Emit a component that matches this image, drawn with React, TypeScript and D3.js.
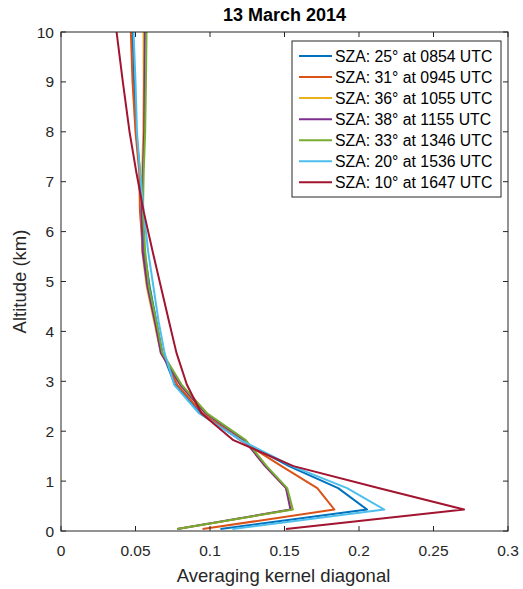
import React from "react";
import * as d3 from "d3";

// altitude grid (km)
const altitudes = [0.04, 0.43, 0.86, 1.3, 1.82, 2.36, 2.93, 3.57, 4.2, 4.9, 5.6, 6.4, 7.2, 8.0, 9.0, 10.0];

const labels = [
  "SZA: 25° at 0854 UTC",
  "SZA: 31° at 0945 UTC",
  "SZA: 36° at 1055 UTC",
  "SZA: 38° at 1155 UTC",
  "SZA: 33° at 1346 UTC",
  "SZA: 20° at 1536 UTC",
  "SZA: 10° at 1647 UTC",
];

const colors = ["#0072BD", "#D95319", "#EDB120", "#7E2F8E", "#77AC30", "#4DBEEE", "#A2142F"];

const ak0854 = [0.107, 0.2054, 0.186, 0.153, 0.1205, 0.094, 0.0765, 0.068, 0.064, 0.0595, 0.056, 0.054, 0.053, 0.0505, 0.049, 0.048];
const ak0945 = [0.095, 0.1835, 0.172, 0.148, 0.1205, 0.095, 0.078, 0.068, 0.063, 0.058, 0.055, 0.053, 0.0525, 0.05, 0.048, 0.0469];
const ak1055 = [0.078, 0.155, 0.151, 0.137, 0.123, 0.097, 0.08, 0.067, 0.0625, 0.0575, 0.0545, 0.054, 0.0545, 0.0552, 0.0555, 0.0554];
const ak1155 = [0.078, 0.154, 0.151, 0.137, 0.123, 0.097, 0.08, 0.067, 0.063, 0.058, 0.0548, 0.054, 0.055, 0.0558, 0.056, 0.0563];
const ak1346 = [0.078, 0.1556, 0.1518, 0.138, 0.124, 0.098, 0.081, 0.068, 0.064, 0.059, 0.0565, 0.055, 0.0555, 0.0565, 0.057, 0.0574];
const ak1536 = [0.115, 0.217, 0.192, 0.155, 0.1205, 0.0926, 0.076, 0.0695, 0.0655, 0.062, 0.0585, 0.0555, 0.053, 0.051, 0.05, 0.0487];
const ak1647 = [0.151, 0.2705, 0.213, 0.156, 0.1157, 0.0942, 0.0845, 0.0775, 0.0725, 0.067, 0.0615, 0.0555, 0.0505, 0.046, 0.0415, 0.0373];

const series = [ak0854, ak0945, ak1055, ak1155, ak1346, ak1536, ak1647];

const xTicks = [0, 0.05, 0.1, 0.15, 0.2, 0.25, 0.3];
const xTickLabels = ["0", "0.05", "0.1", "0.15", "0.2", "0.25", "0.3"];
const yTicks = [0, 1, 2, 3, 4, 5, 6, 7, 8, 9, 10];

const W = 523;
const H = 589;
const left = 61;
const right = 508;
const top = 32;
const bottom = 531;
const axisColor = "#262626";
const font = "'Liberation Sans', Arial, sans-serif";

export default function App() {
  const x = d3.scaleLinear().domain([0, 0.3]).range([left, right]);
  const y = d3.scaleLinear().domain([0, 10]).range([bottom, top]);

  const line = d3
    .line<number>()
    .x((d) => x(d))
    .y((d, i) => y(altitudes[i]));

  const tickLen = 5;
  const legX = 292;
  const legY = 41;
  const legW = 209;
  const legH = 156;
  const rowStep = 21.05;

  return (
    <svg
      width={W}
      height={H}
      style={{ position: "absolute", left: 0, top: 0, background: "#fff" }}
      fontFamily={font}
    >
      <rect x={0} y={0} width={W} height={H} fill="#fff" />
      <defs>
        <clipPath id="plotClip">
          <rect x={left} y={top} width={right - left} height={bottom - top} />
        </clipPath>
      </defs>

      {/* lines */}
      <g clipPath="url(#plotClip)">
        {series.map((s, i) => (
          <path key={i} d={line(s) || ""} fill="none" stroke={colors[i]} strokeWidth={2} strokeLinejoin="round" />
        ))}
      </g>

      {/* box + ticks */}
      <rect x={left} y={top} width={right - left} height={bottom - top} fill="none" stroke={axisColor} strokeWidth={1} />
      {xTicks.map((t, i) => (
        <g key={"x" + i}>
          <line x1={x(t)} x2={x(t)} y1={bottom} y2={bottom - tickLen} stroke={axisColor} />
          <line x1={x(t)} x2={x(t)} y1={top} y2={top + tickLen} stroke={axisColor} />
          <text x={x(t)} y={556} textAnchor="middle" fontSize={15.5} fill={axisColor}>
            {xTickLabels[i]}
          </text>
        </g>
      ))}
      {yTicks.map((t) => (
        <g key={"y" + t}>
          <line x1={left} x2={left + tickLen} y1={y(t)} y2={y(t)} stroke={axisColor} />
          <line x1={right} x2={right - tickLen} y1={y(t)} y2={y(t)} stroke={axisColor} />
          <text x={54} y={y(t) + 5.5} textAnchor="end" fontSize={15.5} fill={axisColor}>
            {t}
          </text>
        </g>
      ))}

      {/* axis labels + title */}
      <text x={(left + right) / 2 - 1} y={582} textAnchor="middle" fontSize={18.5} fill={axisColor}>
        Averaging kernel diagonal
      </text>
      <text
        transform={`translate(26, ${(top + bottom) / 2}) rotate(-90)`}
        textAnchor="middle"
        fontSize={18.5}
        fill={axisColor}
      >
        Altitude (km)
      </text>
      <text x={(left + right) / 2} y={21} textAnchor="middle" fontSize={18} fontWeight="bold" fill="#000">
        13 March 2014
      </text>

      {/* legend */}
      <rect x={legX} y={legY} width={legW} height={legH} fill="#fff" stroke={axisColor} strokeWidth={1} />
      {labels.map((lab, i) => {
        const cy = 56 + i * rowStep;
        return (
          <g key={"l" + i}>
            <line x1={299} x2={332} y1={cy} y2={cy} stroke={colors[i]} strokeWidth={2} />
            <text x={335} y={cy + 5.5} fontSize={15.8} fill="#000">
              {lab}
            </text>
          </g>
        );
      })}
    </svg>
  );
}
